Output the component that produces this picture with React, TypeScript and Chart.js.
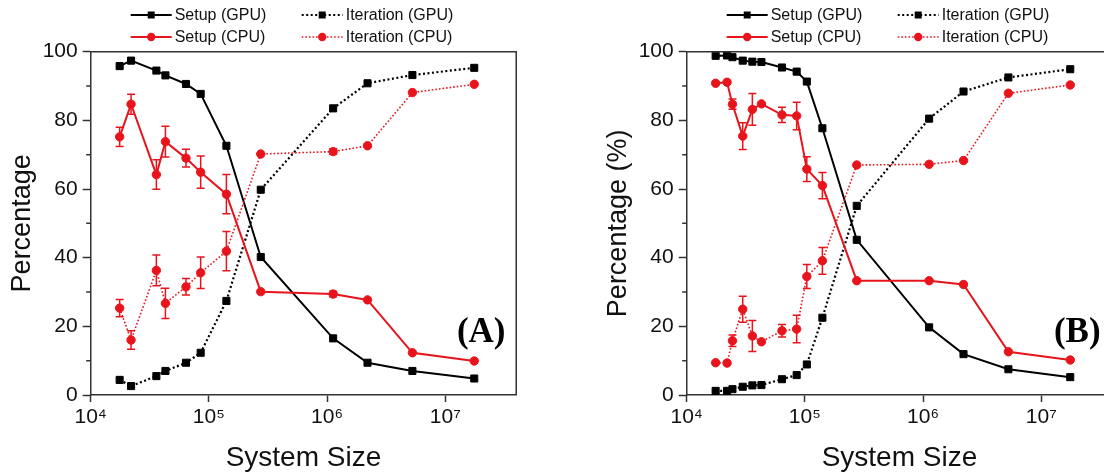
import React, { useEffect, useRef } from 'react';
import { Chart, registerables } from 'chart.js';

Chart.register(...registerables);

const FONT = '"Liberation Sans", Arial, Helvetica, sans-serif';
const SERIF = '"Liberation Serif", "Times New Roman", serif';
const RED = '#e8141c';
const BLACK = '#000000';
const AXIS = '#333333';
const TEXT = '#111111';

// ---------- Panel A data ----------
const sizesA = [17576, 21952, 35937, 42875, 64000, 85184, 140608, 274625, 1124864, 2197000, 5268024, 17576000];
const setupGpuA = [95.8, 97.4, 94.5, 93.1, 90.6, 87.7, 72.6, 40.2, 16.5, 9.4, 7.0, 4.8];
const iterGpuA = [4.4, 2.6, 5.5, 7.0, 9.4, 12.3, 27.4, 59.8, 83.5, 90.8, 93.2, 95.3];
const setupCpuA = [75.2, 84.7, 64.2, 73.8, 69.0, 64.9, 58.5, 30.1, 29.4, 27.7, 12.3, 9.9];
const setupCpuErrA = [2.8, 2.9, 4.3, 4.5, 2.6, 4.7, 5.7, 0, 0.8, 0, 0, 0];
const iterCpuA = [25.3, 16.0, 36.3, 26.7, 31.5, 35.6, 41.9, 70.2, 70.9, 72.6, 88.1, 90.5];
const iterCpuErrA = [2.5, 2.7, 4.5, 4.4, 2.4, 4.6, 5.7, 0, 0.8, 0, 0, 0];

// ---------- Panel B data ----------
const sizesB = [17576, 21952, 24389, 29791, 35937, 42875, 64000, 85184, 103823, 140608, 274625, 1124864, 2197000, 5268024, 17576000];
const setupGpuB = [98.8, 98.9, 98.4, 97.4, 97.1, 97.0, 95.4, 94.2, 91.3, 77.7, 45.2, 19.7, 11.9, 7.5, 5.2];
const iterGpuB = [1.2, 1.2, 1.7, 2.4, 2.8, 2.9, 4.6, 5.8, 8.9, 22.5, 55.1, 80.5, 88.4, 92.5, 94.9];
const setupCpuB = [90.8, 91.1, 84.7, 75.4, 83.2, 84.8, 81.6, 81.3, 65.8, 61.0, 33.3, 33.3, 32.2, 12.6, 10.2];
const setupCpuErrB = [0, 0, 1.5, 3.9, 4.6, 0, 2.2, 4.0, 3.6, 3.8, 0, 0, 0, 0, 0];
const iterCpuB = [9.4, 9.3, 15.8, 25.0, 17.2, 15.5, 18.7, 19.2, 34.5, 39.1, 67.0, 67.2, 68.3, 87.9, 90.3];
const iterCpuErrB = [0, 0, 1.7, 3.8, 4.5, 0, 1.8, 4.0, 3.5, 3.9, 0, 0, 0, 0, 0];

const seriesLabels = ['Setup (GPU)', 'Iteration (GPU)', 'Setup (CPU)', 'Iteration (CPU)'];
const yTicksMajor = [0, 20, 40, 60, 80, 100];
const yTicksMinor = [10, 30, 50, 70, 90];
const xMin = 1e4;
const xMax = Math.pow(10, 7.6);

const SUP = '⁰¹²³⁴⁵⁶⁷⁸⁹';
const sup = (n: number) => String(n).split('').map((d) => SUP[+d]).join('');

function drawSample(ctx: CanvasRenderingContext2D, ds: any, x0: number, y: number) {
  const w = 41;
  ctx.save();
  ctx.strokeStyle = ds.borderColor;
  ctx.fillStyle = ds.borderColor;
  ctx.lineWidth = ds.borderWidth;
  ctx.setLineDash(ds.borderDash || []);
  ctx.beginPath();
  ctx.moveTo(x0, y);
  ctx.lineTo(x0 + w, y);
  ctx.stroke();
  ctx.setLineDash([]);
  const cx = x0 + w / 2;
  ctx.beginPath();
  if (ds.pointStyle === 'rect') {
    ctx.rect(cx - 3.5, y - 3.5, 7, 7);
  } else {
    ctx.arc(cx, y, 4.2, 0, Math.PI * 2);
  }
  ctx.fill();
  ctx.restore();
}

const extrasPlugin = {
  id: 'panelExtras',
  beforeDatasetsDraw(chart: any) {
    const ctx = chart.ctx;
    const ys = chart.scales.y;
    chart.data.datasets.forEach((ds: any, i: number) => {
      if (!ds.errors) return;
      const meta = chart.getDatasetMeta(i);
      ctx.save();
      ctx.strokeStyle = ds.borderColor;
      ctx.lineWidth = 1.5;
      meta.data.forEach((pt: any, j: number) => {
        const e = ds.errors[j];
        if (!e) return;
        const v = ds.data[j].y;
        const y1 = ys.getPixelForValue(v - e);
        const y2 = ys.getPixelForValue(v + e);
        ctx.beginPath();
        ctx.moveTo(pt.x, y1);
        ctx.lineTo(pt.x, y2);
        ctx.moveTo(pt.x - 4, y1);
        ctx.lineTo(pt.x + 4, y1);
        ctx.moveTo(pt.x - 4, y2);
        ctx.lineTo(pt.x + 4, y2);
        ctx.stroke();
      });
      ctx.restore();
    });
  },
  afterDraw(chart: any, _args: any, opts: any) {
    const ctx = chart.ctx;
    const { left, right, top, bottom } = chart.chartArea;
    const ys = chart.scales.y;
    ctx.save();
    // frame (top and right)
    ctx.strokeStyle = AXIS;
    ctx.lineWidth = 1.5;
    ctx.beginPath();
    ctx.moveTo(left, top);
    ctx.lineTo(right, top);
    ctx.lineTo(right, bottom);
    ctx.stroke();
    // minor y ticks
    ctx.beginPath();
    yTicksMinor.forEach((v) => {
      const py = ys.getPixelForValue(v);
      ctx.moveTo(left - 4.5, py);
      ctx.lineTo(left, py);
    });
    ctx.stroke();
    // legend
    const pos = [
      [0, 0],
      [1, 0],
      [0, 1],
      [1, 1],
    ];
    ctx.font = `16px ${FONT}`;
    ctx.textBaseline = 'middle';
    ctx.textAlign = 'left';
    chart.data.datasets.forEach((ds: any, i: number) => {
      const [c, r] = pos[i];
      const x0 = left + 40 + c * 171;
      const y = 15 + r * 22;
      drawSample(ctx, ds, x0, y);
      ctx.fillStyle = TEXT;
      ctx.fillText(ds.label, x0 + 44, y + 1);
    });
    // panel tag
    ctx.font = `bold 35px ${SERIF}`;
    ctx.textAlign = 'center';
    ctx.textBaseline = 'alphabetic';
    ctx.fillStyle = BLACK;
    ctx.fillText(opts.tag, right - 35, 342);
    ctx.restore();
  },
};

type PanelProps = {
  sizes: number[];
  setupGpu: number[];
  iterGpu: number[];
  setupCpu: number[];
  setupCpuErr: number[];
  iterCpu: number[];
  iterCpuErr: number[];
  yTitle: string;
  tag: string;
  width: number;
  axisWidth: number;
  yTitlePad: number;
  left: number;
};

function Panel(p: PanelProps) {
  const ref = useRef<HTMLCanvasElement | null>(null);
  useEffect(() => {
    if (!ref.current) return;
    const pts = (vals: number[]) => p.sizes.map((x, i) => ({ x, y: vals[i] }));
    const chart = new Chart(ref.current, {
      type: 'line',
      data: {
        datasets: [
          {
            label: seriesLabels[0],
            data: pts(p.setupGpu),
            borderColor: BLACK,
            backgroundColor: BLACK,
            borderWidth: 2,
            borderDash: [],
            pointStyle: 'rect',
            pointRadius: 5,
            pointBorderWidth: 1,
            order: 2,
          } as any,
          {
            label: seriesLabels[1],
            data: pts(p.iterGpu),
            borderColor: BLACK,
            backgroundColor: BLACK,
            borderWidth: 2.2,
            borderDash: [2, 2.5],
            pointStyle: 'rect',
            pointRadius: 5,
            pointBorderWidth: 1,
            order: 2,
          } as any,
          {
            label: seriesLabels[2],
            data: pts(p.setupCpu),
            errors: p.setupCpuErr,
            borderColor: RED,
            backgroundColor: RED,
            borderWidth: 2,
            borderDash: [],
            pointStyle: 'circle',
            pointRadius: 4.2,
            pointBorderWidth: 1,
            order: 1,
          } as any,
          {
            label: seriesLabels[3],
            data: pts(p.iterCpu),
            errors: p.iterCpuErr,
            borderColor: RED,
            backgroundColor: RED,
            borderWidth: 1.6,
            borderDash: [1.6, 2],
            pointStyle: 'circle',
            pointRadius: 4.2,
            pointBorderWidth: 1,
            order: 1,
          } as any,
        ],
      },
      options: {
        responsive: false,
        animation: false,
        events: [],
        layout: { padding: { top: 51.7, right: p.width - (p.axisWidth + 3.6 * 118.2), bottom: 0, left: 0 } },
        plugins: {
          legend: { display: false },
          tooltip: { enabled: false },
          panelExtras: { tag: p.tag },
        } as any,
        scales: {
          x: {
            type: 'logarithmic',
            min: xMin,
            max: xMax,
            afterBuildTicks: (s: any) => {
              s.ticks = s.ticks.filter((t: any) => {
                const l = Math.log10(t.value);
                return Math.abs(l - Math.round(l)) < 1e-9;
              });
            },
            afterFit: (s: any) => {
              s.height = 77;
            },
            border: { display: true, color: AXIS, width: 1.5 },
            grid: { display: true, drawOnChartArea: false, drawTicks: true, tickLength: 7, color: AXIS, tickColor: AXIS, tickWidth: 1.5 },
            ticks: {
              autoSkip: false,
              maxRotation: 0,
              padding: 3,
              color: TEXT,
              font: { family: FONT, size: 21 },
              callback: (v: any) => '10' + sup(Math.round(Math.log10(Number(v)))),
            },
            title: {
              display: true,
              text: 'System Size',
              color: TEXT,
              font: { family: FONT, size: 28, lineHeight: 1 },
              padding: { top: 0, bottom: 0 },
            },
          },
          y: {
            type: 'linear',
            min: 0,
            max: 100,
            afterBuildTicks: (s: any) => {
              s.ticks = yTicksMajor.map((v) => ({ value: v }));
            },
            afterFit: (s: any) => {
              s.width = p.axisWidth;
            },
            border: { display: true, color: AXIS, width: 1.5 },
            grid: { display: true, drawOnChartArea: false, drawTicks: true, tickLength: 8, color: AXIS, tickColor: AXIS, tickWidth: 1.5 },
            ticks: {
              padding: 5,
              color: TEXT,
              font: { family: FONT, size: 21 },
            },
            title: {
              display: true,
              text: p.yTitle,
              color: TEXT,
              font: { family: FONT, size: 27, lineHeight: 1.2 },
              padding: { top: p.yTitlePad, bottom: 0 },
            },
          },
        },
      },
      plugins: [extrasPlugin as any],
    });
    return () => chart.destroy();
  }, []);
  return (
    <div style={{ position: 'absolute', left: p.left, top: 0, width: p.width, height: 472 }}>
      <canvas ref={ref} width={p.width} height={472} style={{ display: 'block', width: p.width, height: 472 }} />
    </div>
  );
}

export default function App() {
  return (
    <div style={{ position: 'relative', width: 1104, height: 472, overflow: 'hidden', background: '#fff' }}>
      <style>{'html,body{margin:0;padding:0;overflow:hidden;background:#fff;}'}</style>
      <Panel
        sizes={sizesA}
        setupGpu={setupGpuA}
        iterGpu={iterGpuA}
        setupCpu={setupCpuA}
        setupCpuErr={setupCpuErrA}
        iterCpu={iterCpuA}
        iterCpuErr={iterCpuErrA}
        yTitle="Percentage"
        tag="(A)"
        width={560}
        axisWidth={90.7}
        yTitlePad={6.5}
        left={0}
      />
      <Panel
        sizes={sizesB}
        setupGpu={setupGpuB}
        iterGpu={iterGpuB}
        setupCpu={setupCpuB}
        setupCpuErr={setupCpuErrB}
        iterCpu={iterCpuB}
        iterCpuErr={iterCpuErrB}
        yTitle="Percentage (%)"
        tag="(B)"
        width={580}
        axisWidth={126.7}
        yTitlePad={42}
        left={560}
      />
    </div>
  );
}
